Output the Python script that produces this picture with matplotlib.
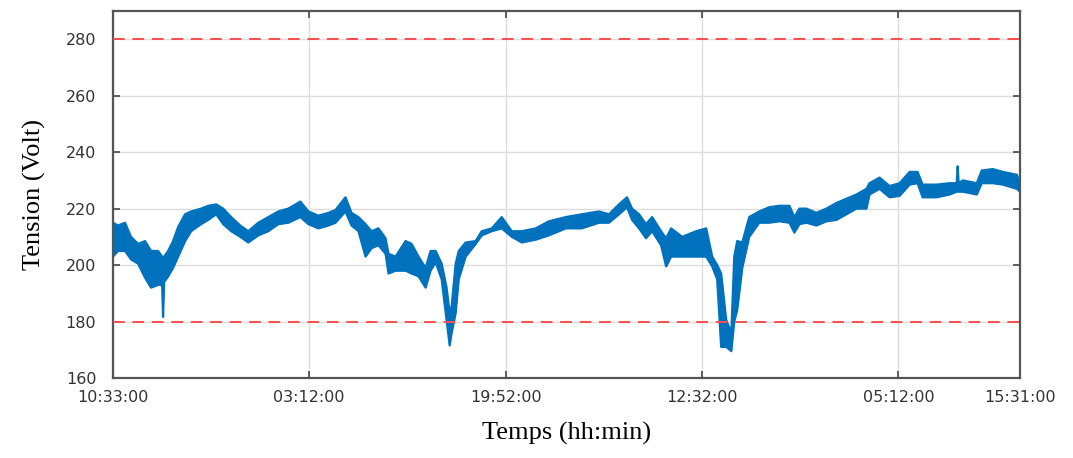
import numpy as np
import matplotlib.pyplot as plt


# heures depuis le debut de l'enregistrement (10:33:00)
hours = [0.0, 0.43, 1.02, 1.53, 2.13, 2.72, 3.23, 3.83, 4.17, 4.25, 4.34,
         4.68, 5.10, 5.53, 6.12, 6.63, 7.48, 8.08, 8.76, 9.35, 10.03,
         10.80, 11.48, 12.33, 13.18, 14.03, 14.88, 15.90, 16.58, 17.43,
         18.28, 18.88, 19.73, 20.24, 20.83, 21.43, 21.94, 22.53, 23.13,
         23.38, 23.98, 24.83, 25.34, 25.93, 26.53, 26.95, 27.38, 27.89,
         28.31, 28.57, 28.74, 29.08, 29.34, 29.93, 30.78, 31.29, 32.14,
         32.99, 33.84, 34.69, 35.88, 36.98, 38.43, 39.79, 41.24, 42.09,
         42.94, 43.62, 44.05, 44.64, 45.23, 45.75, 46.51, 46.94, 47.36,
         48.30, 49.49, 50.34, 50.85, 51.27, 51.61, 52.04, 52.47, 52.72,
         52.97, 53.40, 53.99, 54.84, 55.69, 56.54, 57.40, 57.82, 58.25,
         58.84, 59.69, 60.54, 61.39, 62.24, 63.09, 63.94, 64.20, 65.05,
         65.90, 66.75, 67.60, 68.28, 68.70, 69.89, 71.00, 71.60, 71.68,
         71.76, 72.11, 73.30, 73.72, 74.66, 75.51, 76.70, 76.97]

# tension max / min (V) relevee sur chaque intervalle
v_max = [215, 214, 215, 210, 207.5, 208.5, 205, 205, 203, 200, 203,
         205, 208.5, 213.5, 218, 219, 220, 221, 221.5, 220, 217,
         214, 212, 215, 217, 219, 220, 222.5, 219, 217.5,
         218.5, 219.5, 224, 218.5, 217, 214.5, 212, 213, 209.5,
         204, 203, 208.5, 207.5, 203, 199, 205, 205, 200.5,
         192, 183, 185.5, 200.5, 205, 208, 208.5, 212, 213,
         217, 212, 212, 213, 215.5, 217, 218, 219, 218,
         221.5, 224, 220, 218, 214.5, 217, 212, 209.5, 213,
         210, 212, 213, 203, 200, 197, 180.5, 176, 203,
         208.5, 208, 217, 219, 220.5, 221, 221, 217, 220,
         220, 218.5, 220, 222, 223.5, 225, 227, 229, 231,
         228, 229, 233, 233, 228.5, 228.5, 229, 229, 235,
         229, 230, 229, 233.5, 234, 233, 232, 229]

v_min = [203, 205, 205, 202, 200.5, 195.5, 192, 193, 193, 181.6, 194,
         196, 199, 203, 208.5, 212, 214.5, 216, 218, 214.5, 212,
         210, 208, 210.5, 212, 214.5, 215, 217, 214.5, 213,
         214, 215, 219, 214, 212, 203, 206, 207, 204,
         197, 198, 198, 197, 196, 192, 198, 201, 195,
         180.5, 171.5, 176, 183, 195, 203, 207.5, 210.5, 212,
         213, 210, 208, 209, 210.5, 213, 213, 215, 215,
         218, 220.5, 216, 213, 209.5, 212, 207, 199.5, 203,
         203, 203, 203, 199.5, 195, 171, 171, 169.5, 180,
         184, 199, 210, 215, 215, 215.5, 215, 211.5, 214.5,
         215, 214, 215.5, 216, 218, 220, 220, 225, 227,
         224, 224.5, 228.5, 229, 224, 224, 225, 226, 226,
         226, 226, 225, 229, 229, 228.5, 227, 226]

limits = [180, 280]

tick_hours = [0.0, 16.65, 33.317, 49.983, 66.65, 76.967]
tick_labels = ['10:33:00', '03:12:00', '19:52:00', '12:32:00',
               '05:12:00', '15:31:00']

t = np.array(hours)
hi = np.array(v_max)
lo = np.array(v_min)

fig = plt.figure(figsize=(10.73, 4.58), dpi=100)
ax = fig.add_axes([0.1053, 0.1747, 0.8453, 0.8013])

blue = '#0072BD'
ax.fill_between(t, lo, hi, color=blue, linewidth=0)
ax.plot(t, hi, color=blue, linewidth=1.6)
ax.plot(t, lo, color=blue, linewidth=1.6)

for lim in limits:
    ax.axhline(lim, color='#ff4d4d', linestyle=(0, (6, 4)), linewidth=1.4,
               zorder=3)

ax.set_xlim(tick_hours[0], tick_hours[-1])
ax.set_ylim(160, 290)
ax.set_yticks(np.arange(160, 281, 20))
ax.set_xticks(tick_hours)
ax.set_xticklabels(tick_labels)

ax.grid(True, color='#dddddd', linewidth=1.0)
ax.set_axisbelow(True)
ax.tick_params(direction='in', top=True, right=True, length=5, width=1.2,
               color='#444444', labelsize=11.5, labelcolor='#333333')
ax.tick_params(axis='x', pad=9)
ax.tick_params(axis='y', pad=12)
for lbl in ax.get_xticklabels() + ax.get_yticklabels():
    lbl.set_family('DejaVu Sans')
for s in ax.spines.values():
    s.set_color('#555555')
    s.set_linewidth(1.6)

ax.set_xlabel('Temps (hh:min)', family='Liberation Serif', fontsize=19,
              labelpad=12)
ax.set_ylabel('Tension (Volt)', family='Liberation Serif', fontsize=19,
              labelpad=14)

fig.savefig('out.png', dpi=100)
